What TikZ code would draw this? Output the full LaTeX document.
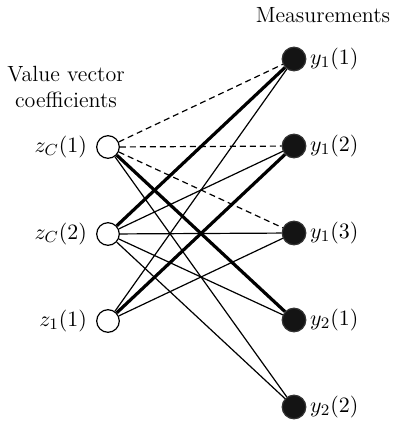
\documentclass[tikz,border=0pt]{standalone}
\begin{document}
\begin{tikzpicture}[x=0.5pt,y=-0.5pt,
  every node/.style={font=\fontsize{11}{13}\selectfont},
  znode/.style={circle,draw,line width=0.6pt,fill=white,minimum size=11.3pt,inner sep=0pt},
  ynode/.style={circle,draw=black!80,line width=0.6pt,fill=black!92,minimum size=11.8pt,inner sep=0pt},
  thin edge/.style={line width=0.6pt},
  thick edge/.style={line width=1.6pt},
  dash edge/.style={line width=0.6pt,dash pattern=on 3pt off 2pt}]
\useasboundingbox (0,0) rectangle (395,424);
\node[znode] (zc1) at (108,147) {};
\node[znode] (zc2) at (108,234) {};
\node[znode] (z11) at (108,321) {};
\node[ynode] (y11) at (294,59) {};
\node[ynode] (y12) at (294,146) {};
\node[ynode] (y13) at (294,233) {};
\node[ynode] (y21) at (294,320) {};
\node[ynode] (y22) at (294,407) {};
\node[anchor=east] (lzc1) at (94,147) {$z_C(1)$};
\node[anchor=east] (lzc2) at (94,234) {$z_C(2)$};
\node[anchor=east] (lz11) at (94,321) {$z_1(1)$};
\node[anchor=west] (ly11) at (303,59) {$y_1(1)$};
\node[anchor=west] (ly12) at (303,146) {$y_1(2)$};
\node[anchor=west] (ly13) at (303,233) {$y_1(3)$};
\node[anchor=west] (ly21) at (303,320) {$y_2(1)$};
\node[anchor=west] (ly22) at (303,407) {$y_2(2)$};
\node (meas) at (323,15) {Measurements};
\node (vv) at (66,74) {Value vector};
\node (coef) at (66,100) {coefficients};
\draw[dash edge] (zc1) -- (y11);
\draw[dash edge] (zc1) -- (y12);
\draw[dash edge] (zc1) -- (y13);
\draw[thick edge] (zc1) -- (y21);
\draw[thin edge] (zc1) -- (y22);
\draw[thick edge] (zc2) -- (y11);
\draw[thin edge] (zc2) -- (y12);
\draw[thin edge] (zc2) -- (y13);
\draw[thin edge] (zc2) -- (y21);
\draw[thin edge] (zc2) -- (y22);
\draw[thin edge] (z11) -- (y11);
\draw[thick edge] (z11) -- (y12);
\draw[thin edge] (z11) -- (y13);
\end{tikzpicture}
\end{document}
